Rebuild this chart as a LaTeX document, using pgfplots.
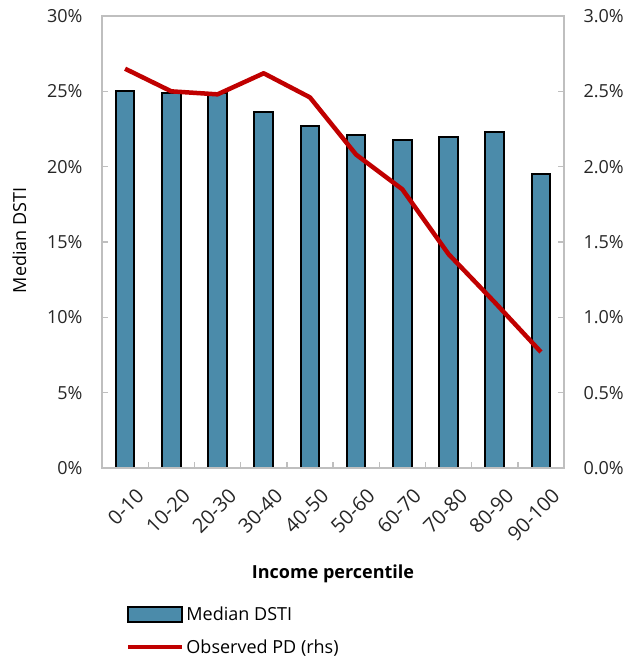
\documentclass[border=0pt]{standalone}
\usepackage{fontspec}
\setmainfont{Open Sans}
\usepackage{pgfplots}
\pgfplotsset{compat=1.18}

\definecolor{barblue}{RGB}{75,139,170}
\definecolor{pdred}{RGB}{192,0,0}
\definecolor{axisgray}{RGB}{191,191,191}

\newcommand{\chartfont}{\fontsize{18bp}{21bp}\selectfont}

% legend symbols: a wide outlined box for the bars, a long stroke for the line
\pgfplotsset{
  barleg/.style={legend image code/.code={
    \draw[fill=barblue, draw=black, line width=2bp] (0bp,-7.5bp) rectangle (54bp,7.5bp);}},
  lineleg/.style={legend image code/.code={
    \draw[pdred, line width=4.5bp] (0bp,0bp) -- (54bp,0bp);}},
}

\begin{document}
\begin{tikzpicture}
\pgfplotsset{
  base/.style={
    scale only axis,
    width=462bp, height=452bp,
    at={(102bp,-468bp)}, anchor=south west,
    xmin=-0.5, xmax=9.5,
    axis line style={axisgray, line width=1.4bp},
    tick style={axisgray, line width=1.4bp},
    major tick length=6bp,
    tick align=inside,
    tick label style={font=\chartfont, text=black!85},
  },
}
% Median DSTI (left axis, bars)
\begin{axis}[base,
  ymin=0, ymax=30,
  ytick={0,5,...,30},
  yticklabels={0\%,5\%,10\%,15\%,20\%,25\%,30\%},
  ytick pos=left,
  yticklabel style={anchor=east, xshift=-16bp},
  xtick={0,...,9},
  xticklabels={0-10,10-20,20-30,30-40,40-50,50-60,60-70,70-80,80-90,90-100},
  xtick style={draw=none},
  xticklabel style={font=\fontsize{20bp}{23bp}\selectfont,
    rotate=45, anchor=north east, yshift=-17bp, xshift=-3bp},
  xlabel={\textbf{Income percentile}},
  xlabel style={font=\chartfont, at={(axis description cs:0.5,-0.234)}, anchor=center},
  ylabel={Median DSTI},
  ylabel style={font=\chartfont, at={(axis description cs:-0.1786,0.504)}, anchor=center},
]
\addplot[ybar, bar width=0.4, fill=barblue, draw=black, line width=2bp]
  coordinates {(0,25.0) (1,24.9) (2,24.9) (3,23.6) (4,22.7)
               (5,22.1) (6,21.8) (7,22.0) (8,22.3) (9,19.5)};
\end{axis}
% Observed PD (right axis, line)
\begin{axis}[base,
  ymin=0, ymax=3,
  axis y line*=right,
  axis x line*=bottom,
  ytick={0,0.5,...,3},
  yticklabels={0.0\%,0.5\%,1.0\%,1.5\%,2.0\%,2.5\%,3.0\%},
  yticklabel style={anchor=west, xshift=16bp},
  xtick={0.5,1.5,...,8.5},
  xticklabels={},
  legend style={draw=none, fill=none, font=\chartfont,
    at={(axis description cs:0.045,-0.297)}, anchor=north west,
    row sep=14bp, legend cell align=left},
]
\addlegendimage{barleg}
\addlegendentry{Median DSTI}
\addplot[pdred, line width=4.5bp, line join=round, no marks, lineleg]
  coordinates {(0,2.65) (1,2.50) (2,2.48) (3,2.62) (4,2.46)
               (5,2.08) (6,1.85) (7,1.42) (8,1.10) (9,0.77)};
\addlegendentry{Observed PD (rhs)}
\end{axis}
\pgfresetboundingbox
\path[use as bounding box] (0bp,0bp) rectangle (635bp,-657bp);
\end{tikzpicture}
\end{document}
